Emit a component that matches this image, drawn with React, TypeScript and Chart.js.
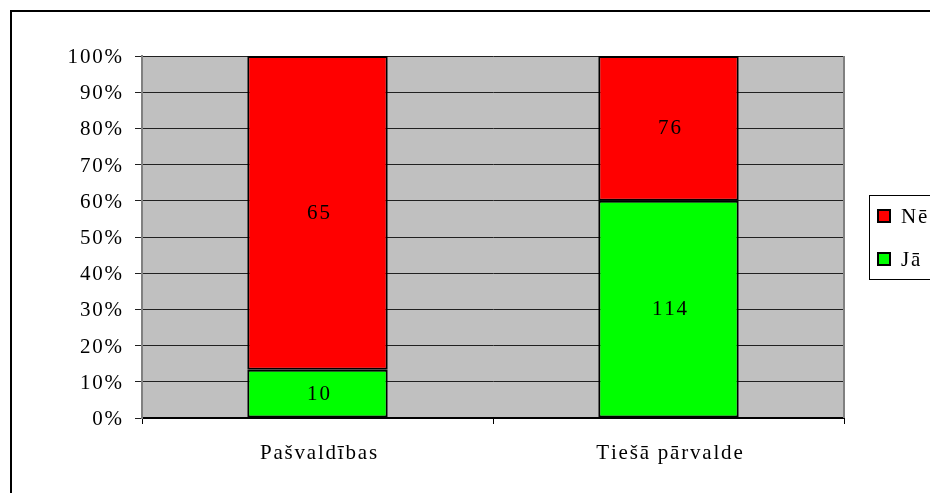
import React, { useEffect, useRef } from "react";
import { Chart, registerables } from "chart.js";

Chart.register(...registerables);

const categories = ["Pašvaldības", "Tiešā pārvalde"];
const seriesNames = ["Jā", "Nē"];
const jaCounts = [10, 114];
const neCounts = [65, 76];
const seriesColors = ["#00FF00", "#FF0000"];
const yTickValues = [0, 10, 20, 30, 40, 50, 60, 70, 80, 90, 100];

const FONT = '"Liberation Serif", "Times New Roman", serif';
const FONT_SIZE = 21;
const SPACING = 1.8;

function drawSpaced(ctx: CanvasRenderingContext2D, text: string, x: number, y: number, align: "left" | "center" | "right") {
  const chars = Array.from(text);
  const widths = chars.map((c) => ctx.measureText(c).width);
  const total = widths.reduce((a, b) => a + b, 0) + SPACING * (chars.length - 1);
  let cx = align === "left" ? x : align === "center" ? x - total / 2 : x - total;
  ctx.textAlign = "left";
  chars.forEach((c, i) => {
    ctx.fillText(c, cx, y);
    cx += widths[i] + SPACING;
  });
}

export default function App() {
  const ref = useRef<HTMLCanvasElement | null>(null);

  useEffect(() => {
    const canvas = ref.current;
    if (!canvas) return;
    const totals = categories.map((_, i) => jaCounts[i] + neCounts[i]);
    const countsBySeries = [jaCounts, neCounts];
    const pct = countsBySeries.map((arr) => arr.map((v, i) => (v / totals[i]) * 100));

    const framePlugin = {
      id: "frame",
      beforeDraw(chart: any) {
        const ctx = chart.ctx;
        const a = chart.chartArea;
        ctx.save();
        ctx.fillStyle = "#FFFFFF";
        ctx.fillRect(0, 0, chart.width, chart.height);
        ctx.fillStyle = "#C0C0C0";
        ctx.fillRect(a.left, a.top, a.right - a.left, a.bottom - a.top);
        ctx.strokeStyle = "#000000";
        ctx.lineWidth = 2;
        ctx.strokeRect(11, 11, chart.width + 20, chart.height + 20);
        ctx.restore();
      },
      beforeDatasetsDraw(chart: any) {
        const ctx = chart.ctx;
        const a = chart.chartArea;
        ctx.save();
        ctx.strokeStyle = "#808080";
        ctx.lineWidth = 2;
        ctx.beginPath();
        ctx.moveTo(a.right, a.top);
        ctx.lineTo(a.right, a.bottom);
        ctx.stroke();
        ctx.restore();
      },
      afterDatasetsDraw(chart: any) {
        const ctx = chart.ctx;
        ctx.save();
        ctx.font = `${FONT_SIZE}px ${FONT}`;
        ctx.fillStyle = "#000000";
        ctx.textBaseline = "alphabetic";
        chart.data.datasets.forEach((ds: any, di: number) => {
          const meta = chart.getDatasetMeta(di);
          meta.data.forEach((el: any, i: number) => {
            const cy = (el.y + el.base) / 2;
            drawSpaced(ctx, String(countsBySeries[di][i]), el.x + 1, cy + 6, "center");
          });
        });
        ctx.restore();
      },
      afterDraw(chart: any) {
        const ctx = chart.ctx;
        ctx.save();
        ctx.font = `${FONT_SIZE}px ${FONT}`;
        ctx.fillStyle = "#000000";
        ctx.textBaseline = "alphabetic";
        const ys = chart.scales.y;
        ys.ticks.forEach((t: any) => {
          const py = ys.getPixelForValue(t.value);
          drawSpaced(ctx, `${t.value}%`, 122, py + 7, "right");
        });
        const xs = chart.scales.x;
        categories.forEach((c, i) => {
          const px = xs.getPixelForValue(i);
          drawSpaced(ctx, c, px + 1, 459, "center");
        });
        ctx.strokeStyle = "#000000";
        ctx.lineWidth = 1;
        ctx.strokeRect(869.5, 195.5, 200, 84);
        const order = [1, 0];
        order.forEach((di, k) => {
          const ds = chart.data.datasets[di];
          const y = 209 + k * 43;
          ctx.fillStyle = ds.backgroundColor;
          ctx.fillRect(878, y + 1, 12, 12);
          ctx.lineWidth = 2;
          ctx.strokeRect(878, y + 1, 12, 12);
          ctx.fillStyle = "#000000";
          drawSpaced(ctx, ds.label, 901, y + 14, "left");
        });
        ctx.restore();
      },
    };

    const chart = new Chart(canvas, {
      type: "bar",
      data: {
        labels: categories,
        datasets: seriesNames.map((name, di) => ({
          label: name,
          data: pct[di],
          backgroundColor: seriesColors[di],
          borderColor: "#000000",
          borderWidth: 2,
          borderSkipped: false,
          categoryPercentage: 1,
          barPercentage: 0.4,
        })),
      },
      options: {
        responsive: false,
        animation: false,
        devicePixelRatio: 1,
        layout: { padding: { left: 0, top: 56, right: 86, bottom: 0 } },
        plugins: {
          legend: { display: false },
          tooltip: { enabled: false },
          title: { display: false },
        },
        scales: {
          x: {
            stacked: true,
            afterFit: (s: any) => {
              s.height = 75;
            },
            grid: {
              display: true,
              drawOnChartArea: false,
              drawTicks: true,
              tickLength: 6,
              color: "#000000",
              lineWidth: 1,
              offset: true,
            },
            border: { display: true, color: "#000000", width: 2 },
            ticks: { display: false },
          },
          y: {
            stacked: true,
            min: 0,
            max: 100,
            afterFit: (s: any) => {
              s.width = 142;
            },
            afterBuildTicks: (s: any) => {
              s.ticks = yTickValues.map((v) => ({ value: v }));
            },
            grid: {
              color: "#202020",
              lineWidth: 1,
              tickLength: 7,
              drawTicks: true,
            },
            border: { display: true, color: "#808080", width: 2 },
            ticks: { display: false },
          },
        },
      },
      plugins: [framePlugin],
    });
    return () => chart.destroy();
  }, []);

  return (
    <div style={{ position: "absolute", left: 0, top: 0, width: 930, height: 493, background: "#fff" }}>
      <canvas ref={ref} width={930} height={493} style={{ display: "block" }} />
    </div>
  );
}
